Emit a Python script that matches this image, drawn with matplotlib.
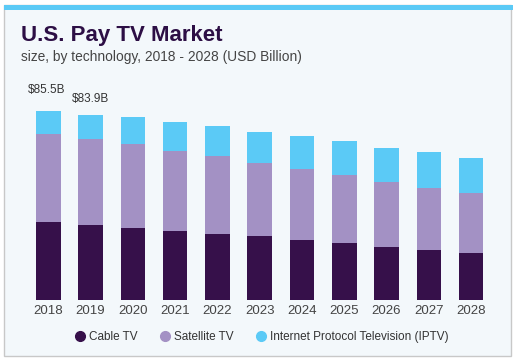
import matplotlib.pyplot as plt
from matplotlib.patches import Rectangle
from matplotlib.lines import Line2D

years = ['2018', '2019', '2020', '2021', '2022', '2023', '2024', '2025', '2026', '2027', '2028']
cable = [35.1, 33.9, 32.6, 31.2, 30.0, 28.8, 27.1, 25.6, 24.1, 22.6, 21.1]
satellite = [39.8, 38.8, 37.9, 36.3, 35.1, 33.2, 32.4, 30.9, 29.4, 28.0, 27.1]
iptv = [10.6, 11.2, 12.1, 12.9, 13.6, 14.1, 14.8, 15.3, 15.4, 16.2, 15.9]
total_labels = {0: '$85.5B', 1: '$83.9B'}

c_cable = '#36104a'
c_sat = '#a391c4'
c_iptv = '#5bcaf6'
bg = '#f3f8fb'

fig = plt.figure(figsize=(5.13, 3.59), dpi=100)
fig.patch.set_facecolor('white')

# card background with border and top stripe
fig.patches.append(Rectangle((4 / 513, 3 / 359), 507 / 513, 351 / 359, transform=fig.transFigure,
                             facecolor=bg, edgecolor='#c8c8c8', linewidth=1.0, zorder=-2))
fig.patches.append(Rectangle((4 / 513, (359 - 10) / 359), 509 / 513, 5 / 359, transform=fig.transFigure,
                             facecolor=c_iptv, edgecolor='none', zorder=-1))

ax = fig.add_axes([27.2 / 513, 59 / 359, 465 / 513, 200 / 359])
ax.set_facecolor('none')
ax.set_zorder(2)

x = list(range(len(years)))
w = 0.58
bottom2 = [a + b for a, b in zip(cable, satellite)]
ax.bar(x, cable, w, color=c_cable)
ax.bar(x, satellite, w, bottom=cable, color=c_sat)
ax.bar(x, iptv, w, bottom=bottom2, color=c_iptv)

for i, txt in total_labels.items():
    top = cable[i] + satellite[i] + iptv[i]
    dy = 11 if i == 0 else 7
    ax.annotate(txt, (x[i], top), xytext=(-1 if i == 0 else 0, dy), textcoords='offset points',
                ha='center', va='bottom', fontsize=8.5, color='#333333', family='Liberation Sans')

ax.set_xlim(-0.5, 10.5)
ax.set_ylim(0, 90.5)
ax.set_xticks(x)
ax.set_xticklabels(years, fontsize=9.5, color='#444444', family='Liberation Sans')
ax.tick_params(axis='x', length=0, pad=3.5)
ax.set_yticks([])
for s in ax.spines.values():
    s.set_visible(False)

fig.text(21 / 513, 1 - 41 / 359, 'U.S. Pay TV Market', fontsize=16, fontweight='bold',
         color='#2d0f45', family='Liberation Sans')
fig.text(21 / 513, 1 - 61 / 359, 'size, by technology, 2018 - 2028 (USD Billion)', fontsize=9.9,
         color='#444444', family='Liberation Sans')

handles = [Line2D([], [], marker='o', linestyle='none', markersize=7, color=c) for c in (c_cable, c_sat, c_iptv)]
leg = fig.legend(handles=handles, labels=['Cable TV', 'Satellite TV', 'Internet Protocol Television (IPTV)'],
                 loc='center', bbox_to_anchor=(262 / 513, 1 - 337 / 359), ncol=3, frameon=False,
                 handlelength=0.8, handletextpad=0.4, columnspacing=1.9,
                 prop={'family': 'Liberation Sans', 'size': 8.5})
for t in leg.get_texts():
    t.set_color('#333333')

fig.savefig('out.png', dpi=100, facecolor=fig.get_facecolor())
